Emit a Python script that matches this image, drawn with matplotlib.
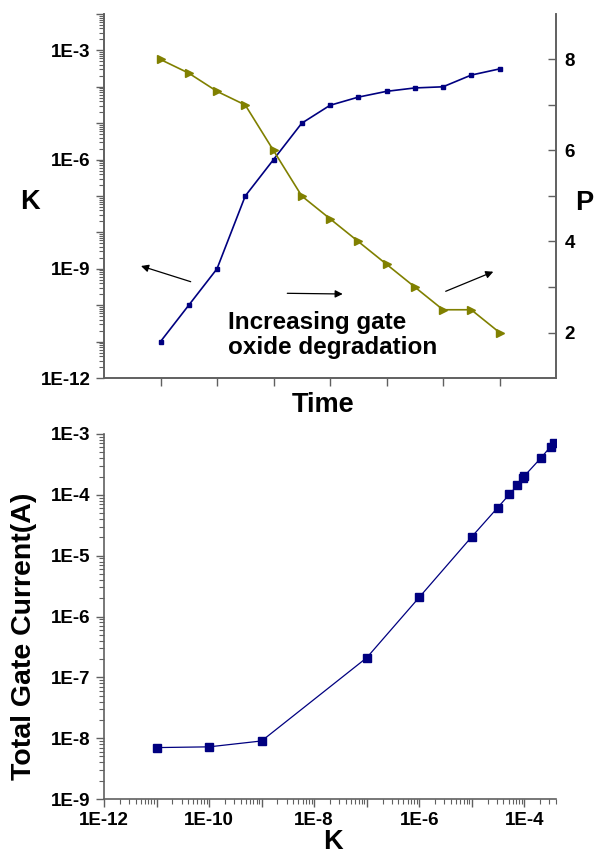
import matplotlib
matplotlib.use("Agg")
import matplotlib.pyplot as plt
import numpy as np
from matplotlib.ticker import FuncFormatter, FixedLocator, NullFormatter, MultipleLocator

plt.rcParams['font.family'] = ['Liberation Sans', 'DejaVu Sans']
plt.rcParams['font.weight'] = 'bold'

# ---- data (top panel) ----
time = [1, 1.5, 2, 2.5, 3, 3.5, 4, 4.5, 5, 5.5, 6, 6.5, 7]
k_vals = [1e-11, 1e-10, 1e-9, 1e-7, 1e-6, 1e-5, 3.1e-5, 5.2e-5, 7.5e-5, 9.3e-5, 1.0e-4, 2.1e-4, 3.1e-4]
p_vals = [8.0, 7.7, 7.3, 7.0, 6.0, 5.0, 4.5, 4.0, 3.5, 3.0, 2.5, 2.5, 2.0]

# ---- data (bottom panel) ----
k_bottom = [1e-11, 1e-10, 1e-9, 1e-7, 1e-6, 1e-5, 3.1e-5, 5.2e-5, 7.3e-5, 9.5e-5, 1.0e-4, 2.1e-4, 3.15e-4, 3.7e-4]
gate_current = [7.0e-9, 7.2e-9, 9.0e-9, 2.1e-7, 2.07e-6, 2.05e-5, 6.15e-5, 1.02e-4, 1.43e-4, 1.87e-4, 2.04e-4, 4.1e-4, 6.2e-4, 7.2e-4]

BLUE = '#000080'
OLIVE = '#808000'
SPINE = '#606060'

W, H = 595, 855
fig = plt.figure(figsize=(W / 100, H / 100), dpi=100)

def rect(l, t, r, b):
    return [l / W, 1 - b / H, (r - l) / W, (b - t) / H]

def exp_fmt(step):
    def f(v, pos):
        e = int(round(np.log10(v)))
        if e % step == 0:
            return f"1E{e}"
        return ""
    return f

def decades(lo, hi):
    return [10.0 ** e for e in range(lo, hi + 1)]

def minors(lo, hi, vmax):
    out = []
    for e in range(lo, hi + 1):
        for s in range(2, 10):
            v = s * 10.0 ** e
            if v <= vmax * 1.0001:
                out.append(v)
    return out

TICKFS = 13.5

# ================= top panel =================
ax = fig.add_axes(rect(104, 14, 556, 378))
ax.plot(time, k_vals, color=BLUE, lw=1.2, marker='s', ms=3.2, zorder=3)
ax.set_yscale('log')
ax.set_ylim(1e-12, 1e-2)
ax.set_xlim(0, 8)
ax.xaxis.set_major_locator(FixedLocator([1, 2, 3, 4, 5, 6, 7]))
ax.xaxis.set_major_formatter(NullFormatter())
ax.yaxis.set_major_locator(FixedLocator(decades(-12, -2)))
ax.yaxis.set_minor_locator(FixedLocator(minors(-12, -3, 1e-2)))
ax.yaxis.set_major_formatter(FuncFormatter(exp_fmt(3)))
ax.yaxis.set_minor_formatter(NullFormatter())
ax.spines['top'].set_visible(False)
for s in ax.spines.values():
    s.set_color(SPINE)
    s.set_linewidth(1.2)
ax.tick_params(axis='both', which='major', direction='out', length=6, width=1, color=SPINE,
               labelsize=TICKFS)
ax.tick_params(axis='both', which='minor', direction='out', length=3.5, width=0.8, color=SPINE)
for lbl in ax.get_yticklabels():
    lbl.set_fontweight('bold')

ax2 = ax.twinx()
ax2.plot(time, p_vals, color=OLIVE, lw=1.2, marker='>', ms=6, zorder=3)
ax2.set_ylim(1, 9)
ax2.yaxis.set_major_locator(MultipleLocator(2))
ax2.yaxis.set_minor_locator(FixedLocator([3, 5, 7]))
ax2.spines['top'].set_visible(False)
for s in ax2.spines.values():
    s.set_color(SPINE)
    s.set_linewidth(1.2)
ax2.tick_params(axis='y', which='major', direction='in', length=6, width=1, color=SPINE,
                labelsize=TICKFS, pad=6)
ax2.tick_params(axis='y', which='minor', direction='in', length=6, width=1, color=SPINE)
for lbl in ax2.get_yticklabels():
    lbl.set_fontweight('bold')

fig.text(30 / W, 1 - 202 / H, 'K', fontsize=19.5, fontweight='bold', ha='center', va='center')
fig.text(584 / W, 1 - 203 / H, 'P', fontsize=19.5, fontweight='bold', ha='center', va='center')
fig.text(323 / W, 1 - 405 / H, 'Time', fontsize=19.5, fontweight='bold', ha='center', va='center')

def axfrac(x, y):
    return ((x - 104) / 452, (378 - y) / 364)

arrow_kw = dict(arrowstyle='-|>', color='black', lw=0.9, mutation_scale=11, shrinkA=0, shrinkB=0)
for tail, head in [((190.7, 281.7), (141, 266)),
                   ((287.3, 293.3), (342.7, 294)),
                   ((445.7, 291.3), (493.3, 271.7))]:
    ax2.annotate('', xy=axfrac(*head), xytext=axfrac(*tail), xycoords='axes fraction',
                 textcoords='axes fraction', arrowprops=arrow_kw)

ax2.text(*axfrac(228, 335), 'Increasing gate\noxide degradation', transform=ax2.transAxes,
         fontsize=17.5, fontweight='bold', ha='left', va='center', linespacing=1.15)

# ================= bottom panel =================
bx = fig.add_axes(rect(104, 434, 556, 799))
bx.plot(k_bottom, gate_current, color=BLUE, lw=0.9, marker='s', ms=6, zorder=3)
bx.set_xscale('log')
bx.set_yscale('log')
bx.set_xlim(1e-12, 4e-4)
bx.set_ylim(1e-9, 1e-3)
bx.xaxis.set_major_locator(FixedLocator(decades(-12, -4)))
bx.xaxis.set_minor_locator(FixedLocator(minors(-12, -4, 4e-4)))
bx.xaxis.set_major_formatter(FuncFormatter(exp_fmt(2)))
bx.xaxis.set_minor_formatter(NullFormatter())
bx.yaxis.set_major_locator(FixedLocator(decades(-9, -3)))
bx.yaxis.set_minor_locator(FixedLocator(minors(-9, -4, 1e-3)))
bx.yaxis.set_major_formatter(FuncFormatter(exp_fmt(1)))
bx.yaxis.set_minor_formatter(NullFormatter())
bx.spines['top'].set_visible(False)
bx.spines['right'].set_visible(False)
for s in bx.spines.values():
    s.set_color(SPINE)
    s.set_linewidth(1.2)
bx.tick_params(axis='both', which='major', direction='out', length=6, width=1, color=SPINE,
               labelsize=TICKFS)
bx.tick_params(axis='both', which='minor', direction='out', length=3.5, width=0.8, color=SPINE)
for lbl in bx.get_xticklabels() + bx.get_yticklabels():
    lbl.set_fontweight('bold')

fig.text(24 / W, 1 - 636 / H, 'Total Gate Current(A)', fontsize=20.5, fontweight='bold',
         ha='center', va='center', rotation=90)
fig.text(333 / W, 1 - 842 / H, 'K', fontsize=19.5, fontweight='bold', ha='center', va='center')

fig.savefig('out.png', dpi=100)
